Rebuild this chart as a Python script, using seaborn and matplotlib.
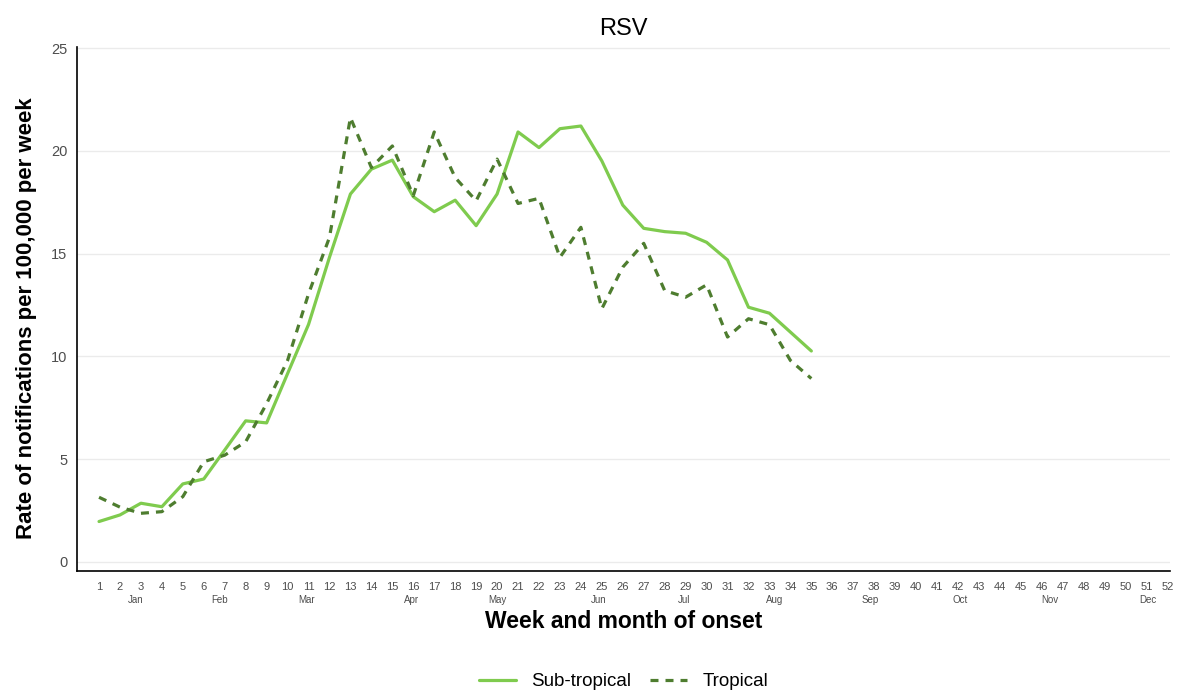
import numpy as np
import pandas as pd
import matplotlib
matplotlib.use("Agg")
import matplotlib.pyplot as plt
import seaborn as sns

# weekly notification rates (per 100,000)
weeks = list(range(1, 36))
sub_tropical = [1.96, 2.28, 2.85, 2.68, 3.79, 4.03, 5.44, 6.86, 6.76, 9.16,
                11.55, 14.82, 17.90, 19.11, 19.55, 17.77, 17.04, 17.60, 16.36, 17.90,
                20.92, 20.16, 21.08, 21.21, 19.51, 17.36, 16.23, 16.07, 15.99, 15.55,
                14.69, 12.39, 12.10, 11.18, 10.26]
tropical = [3.14, 2.66, 2.36, 2.44, 3.17, 4.87, 5.19, 5.84, 7.70, 9.80,
            13.04, 15.79, 21.62, 19.19, 20.24, 17.82, 20.92, 18.70, 17.57, 19.60,
            17.44, 17.69, 14.82, 16.28, 12.32, 14.34, 15.50, 13.20, 12.88, 13.48,
            10.94, 11.83, 11.54, 9.80, 8.92]

week_ticks = list(range(1, 53))
month_names = ["Jan", "Feb", "Mar", "Apr", "May", "Jun",
               "Jul", "Aug", "Sep", "Oct", "Nov", "Dec"]
month_pos = [2.77, 6.77, 10.9, 15.9, 20.0, 24.85, 28.9, 33.25, 37.8, 42.1, 46.4, 51.05]

df = pd.DataFrame({
    "week": weeks * 2,
    "rate": sub_tropical + tropical,
    "region": ["Sub-tropical"] * len(weeks) + ["Tropical"] * len(weeks),
})

sns.set_style("white")
plt.rcParams["font.family"] = ["Liberation Sans", "DejaVu Sans"]

fig, ax = plt.subplots(figsize=(11.85, 6.93), dpi=100)
fig.subplots_adjust(left=0.065, right=0.987, bottom=0.176, top=0.932)

palette = {"Sub-tropical": "#7fcb4e", "Tropical": "#4e7d2f"}
dashes = {"Sub-tropical": "", "Tropical": (2.5, 2.2)}
sns.lineplot(data=df, x="week", y="rate", hue="region", style="region",
             palette=palette, dashes=dashes, linewidth=2.3, ax=ax)

ax.set_xlim(-0.05, 52.1)
ax.set_ylim(-0.45, 25.05)
ax.set_yticks([0, 5, 10, 15, 20, 25])
ax.set_xticks(week_ticks)
ax.set_xticklabels([str(w) for w in week_ticks])
ax.yaxis.grid(True, color="#ebebeb", linewidth=1)
ax.xaxis.grid(False)
for s in ["top", "right"]:
    ax.spines[s].set_visible(False)
for s in ["left", "bottom"]:
    ax.spines[s].set_color("black")
    ax.spines[s].set_linewidth(1.2)
ax.tick_params(axis="both", which="major", length=4, width=1, color="black",
               labelcolor="#4d4d4d", direction="out")
ax.tick_params(axis="x", labelsize=8, pad=4)
ax.tick_params(axis="y", labelsize=10.5, pad=3)

# month names under the week numbers
for m, p in zip(month_names, month_pos):
    ax.annotate(m, xy=(p, 0), xycoords=("data", "axes fraction"),
                xytext=(0, -20.5), textcoords="offset points",
                ha="center", va="center", fontsize=7, color="#4d4d4d")

ax.set_xlabel("Week and month of onset", fontsize=16.5, fontweight="bold",
              labelpad=13, color="black")
ax.set_ylabel("Rate of notifications per 100,000 per week", fontsize=16,
              fontweight="bold", color="black")
ax.yaxis.set_label_coords(-0.037, 0.483)
ax.set_title("RSV", fontsize=17, pad=9, color="black")

ax.legend(title=None, loc="center", bbox_to_anchor=(0.5, -0.211), ncol=2,
          frameon=False, fontsize=13.5, handlelength=2.0, columnspacing=1.0,
          labelcolor="black")

plt.savefig("out.png", dpi=100)
